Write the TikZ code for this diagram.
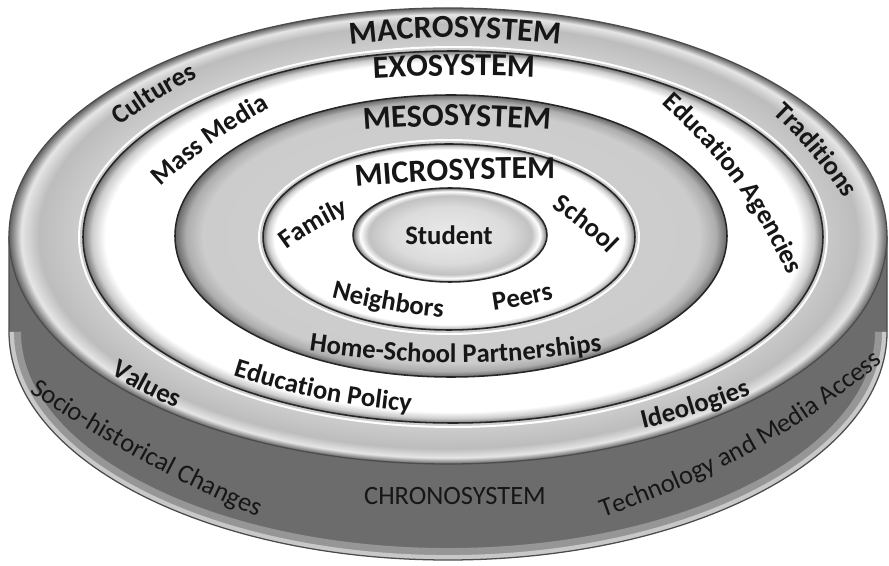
\documentclass[tikz,border=0pt]{standalone}
\usepackage{fontspec}
\setmainfont{Carlito}
\usepackage{tikz}
\usetikzlibrary{decorations.text}

\definecolor{sidegray}{RGB}{108,108,108}
\definecolor{rimgray}{RGB}{150,150,150}
\definecolor{rimlight}{RGB}{200,200,200}
\definecolor{inkgray}{RGB}{22,22,22}

\newcommand\sysnamefont{\bfseries\fontsize{22.8}{24}\selectfont\color{inkgray}}
\newcommand\bandfont{\bfseries\fontsize{19}{20}\selectfont\color{inkgray}}
\newcommand\rimfont{\fontsize{18.8}{20}\selectfont\color{inkgray}}

\pgfdeclareradialshading{macroband}{\pgfpoint{0bp}{0bp}}{color(0bp)=(black!20); color(21bp)=(black!20); color(23.3bp)=(black!26); color(24.3bp)=(black!10); color(24.7bp)=(black!40); color(25bp)=(black!62); color(50bp)=(black!62)}
\pgfdeclareradialshading{exoband}{\pgfpoint{0bp}{0bp}}{color(0bp)=(white); color(23.5bp)=(white); color(24.4bp)=(black!20); color(25bp)=(black!55); color(50bp)=(black!55)}
\pgfdeclareradialshading{mesoband}{\pgfpoint{0bp}{0bp}}{color(0bp)=(black!18); color(22.5bp)=(black!20); color(24bp)=(black!32); color(25bp)=(black!60); color(50bp)=(black!60)}
\pgfdeclareradialshading{microband}{\pgfpoint{0bp}{0bp}}{color(0bp)=(white); color(23.5bp)=(white); color(24.4bp)=(black!20); color(25bp)=(black!55); color(50bp)=(black!55)}
\pgfdeclareradialshading{studentband}{\pgfpoint{0bp}{0bp}}{color(0bp)=(black!8); color(15bp)=(black!14); color(21bp)=(black!24); color(23.2bp)=(white); color(24.2bp)=(black!30); color(25bp)=(black!60); color(50bp)=(black!60)}

\begin{document}
\begin{tikzpicture}[x=0.025cm, y=0.025cm,
    ring/.style={draw=black!85, line width=1.1pt},
    glint/.style={draw=white, line width=1.4pt},
    syslbl/.style={decorate, decoration={text along path, text align=center, text={|\sysnamefont|#1}}},
    bandlbl/.style={decorate, decoration={text along path, text align=center, text={|\bandfont|#1}}},
    rimlbl/.style={decorate, decoration={text along path, text align=center, text={|\rimfont|#1}}}]
    \useasboundingbox (0,0) rectangle (889,566);
    \coordinate (top) at (448,330);
    \coordinate (bot) at (448,234);

    \fill[sidegray] (9,330) -- (9,234) arc[start angle=180, end angle=360, x radius=439, y radius=228] -- (887,330) arc[start angle=0, end angle=-180, x radius=439, y radius=228] -- cycle;
    \begin{scope}
        \clip (9,330) -- (9,234) arc[start angle=180, end angle=360, x radius=439, y radius=228] -- (887,330) arc[start angle=0, end angle=-180, x radius=439, y radius=228] -- cycle;
        \draw[rimgray, line width=17pt] (9,234) arc[start angle=180, end angle=360, x radius=439, y radius=228];
        \draw[rimlight, line width=7pt] (9,234) arc[start angle=180, end angle=360, x radius=439, y radius=228];
    \end{scope}
    \draw[black!70, line width=0.9pt] (9,330) -- (9,234) arc[start angle=180, end angle=360, x radius=439, y radius=228] -- (887,330);

    \shadedraw[shading=macroband, draw=black!70, line width=0.9pt] (top) ellipse[x radius=439, y radius=228];
    \draw[glint] (453,329) ellipse[x radius=374, y radius=190];
    \shadedraw[shading=exoband, ring] (453,329) ellipse[x radius=370, y radius=186];
    \shadedraw[shading=mesoband, ring] (451,330) ellipse[x radius=276, y radius=141];
    \draw[glint] (449,329) ellipse[x radius=190, y radius=97];
    \shadedraw[shading=microband, ring] (449,329) ellipse[x radius=186, y radius=93];
    \shadedraw[shading=studentband, ring] (450,331) ellipse[x radius=97, y radius=47];

    \path[syslbl=MACROSYSTEM] (325,519) to[bend left=7] (585,519);
    \path[syslbl=EXOSYSTEM] (348,486) to[bend left=3] (560,488);
    \path[syslbl=MESOSYSTEM] (337,434) to[bend left=5] (577,434);
    \path[syslbl=MICROSYSTEM] (328,377) to[bend left=3] (583,387);

    \path[bandlbl=Cultures] (97.8,423.7) to[bend left=6] (222.3,501.2);
    \path[bandlbl={Mass Media}] (141.8,361.2) to[bend left=8] (292.3,470.7);
    \path[bandlbl=Traditions] (752.9,471.1) to[bend left=8] (859.1,344.9);
    \path[bandlbl={Education Agencies}] (648.2,475.2) to[bend left=12] (795.8,273.8);
    \path[bandlbl=Family] (267.4,301.3) to[bend left=8] (371.6,362.7);
    \path[bandlbl=School] (528.6,372.7) to[bend left=8] (627.4,292.8);
    \path[bandlbl=Neighbors] (307.4,274.4) to[bend right=5] (467.6,245.6);
    \path[bandlbl=Peers] (470.4,252.2) to[bend right=4] (576.6,272.8);
    \path[bandlbl={Home-School Partnerships}] (283,219) to[bend right=9] (628,219);
    \path[bandlbl={Education Policy}] (208.5,197.9) to[bend right=7] (436.5,152.1);
    \path[bandlbl=Values] (89.9,205.6) to[bend right=6] (199.1,148.4);
    \path[bandlbl=Ideologies] (620.2,131.9) to[bend right=5] (772.8,180.6);

    \node[font=\bandfont, anchor=base] (student) at (449,321) {Student};

    \path[rimlbl={Socio-historical Changes}] (5.1,190) to[bend right=5] (283.9,37);
    \path[rimlbl={Technology and Media Access}] (587.1,42.9) to[bend right=10] (895.9,214.1);
    \node[font=\rimfont] (chrono) at (455,70) {CHRONOSYSTEM};
\end{tikzpicture}
\end{document}
